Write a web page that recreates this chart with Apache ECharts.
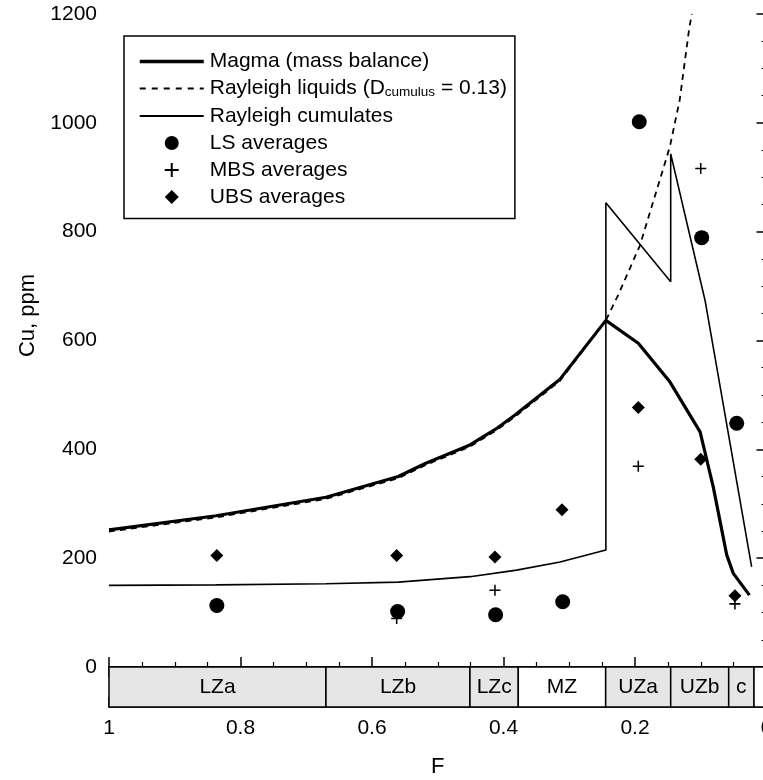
<!DOCTYPE html>
<html>
<head>
<meta charset="utf-8">
<script src="https://cdn.jsdelivr.net/npm/echarts@6/dist/echarts.min.js"></script>
<style>
html, body { margin: 0; padding: 0; background: #fff; }
#chart { width: 763px; height: 780px; }
</style>
</head>
<body>
<div id="chart"></div>
<script>
// Magma (mass balance), thick line
var magmaF  = [1, 0.837, 0.67, 0.56, 0.519, 0.451, 0.412, 0.3825, 0.314, 0.2443, 0.195, 0.147, 0.101, 0.081, 0.0605, 0.0505, 0.026];
var magmaCu = [252, 278, 312, 350, 374, 408, 437, 463, 529, 637, 595, 524, 432, 331, 206, 172, 132];

// Rayleigh liquids, dashed
var liqF  = [1, 0.837, 0.67, 0.56, 0.519, 0.451, 0.412, 0.3825, 0.314, 0.2443, 0.2254, 0.1924, 0.147, 0.132, 0.1175, 0.1136];
var liqCu = [249, 275, 309, 347, 371, 405, 434, 460, 526, 637, 684, 775, 956, 1042, 1174, 1200];

// Rayleigh cumulates, thin line
var cumF  = [1, 0.837, 0.67, 0.56, 0.451, 0.38, 0.314, 0.2443, 0.2443, 0.1457, 0.1457, 0.0935, 0.0226];
var cumCu = [150, 151, 153, 156, 166, 178, 193, 215, 853, 708, 943, 674, 184];

// averages
var lsF   = [0.836, 0.561, 0.412, 0.31, 0.1935, 0.0986, 0.0453];
var lsCu  = [113, 102, 96, 120, 1002, 789, 448];
var mbsF  = [0.5625, 0.413, 0.195, 0.1, 0.048];
var mbsCu = [89, 141, 369, 916, 116];
var ubsF  = [0.836, 0.5625, 0.413, 0.311, 0.195, 0.100, 0.048];
var ubsCu = [205, 205, 202, 289, 477, 382, 131];

// zones along F
var zoneNames = ['LZa', 'LZb', 'LZc', 'MZ', 'UZa', 'UZb', 'c', ''];
var zoneEdges = [1, 0.67, 0.451, 0.3775, 0.2446, 0.1457, 0.0575, 0.019, 0];
var whiteZones = ['MZ', ''];

function pairs(xs, ys) {
    return xs.map(function (x, i) { return [x, ys[i]]; });
}

var font = 'Liberation Sans, Arial, Helvetica, sans-serif';
var plusPath = 'path://M4.3,0 H5.7 V4.3 H10 V5.7 H5.7 V10 H4.3 V5.7 H0 V4.3 H4.3 Z';
var diamondPath = 'path://M5,0 L10,5 L5,10 L0,5 Z';
var noDot = { color: 'rgba(0,0,0,0)', borderColor: 'rgba(0,0,0,0)', borderWidth: 0 };

var chart = echarts.init(document.getElementById('chart'));

var axisLine = { show: true, lineStyle: { color: '#000', width: 1.5 } };
var tickIn = { show: true, inside: true, length: 10, lineStyle: { color: '#000', width: 1.5 } };
var minorIn = { show: true, splitNumber: 4, length: 5, lineStyle: { color: '#000', width: 1.2 } };

option = {
    animation: false,
    backgroundColor: '#fff',
    textStyle: { fontFamily: font },
    grid: [
        { left: 109, top: 14, width: 657.5, height: 653, outerBoundsMode: 'none', containLabel: false },
        { left: 109, top: 667, width: 657.5, height: 40, outerBoundsMode: 'none', containLabel: false }
    ],
    legend: {
        orient: 'vertical',
        left: 124,
        top: 36,
        padding: [15, 8, 11, 14],
        itemGap: 6,
        itemWidth: 64,
        itemHeight: 14,
        borderColor: '#000',
        borderWidth: 1.5,
        backgroundColor: '#fff',
        textStyle: {
            fontFamily: font,
            fontSize: 21,
            color: '#000',
            padding: [0, 0, 0, 1],
            rich: {
                n: { fontFamily: font, fontSize: 21, color: '#000' },
                s: { fontFamily: font, fontSize: 13.5, color: '#000', verticalAlign: 'bottom', padding: [8, 0, 0, 0] }
            }
        },
        formatter: function (name) {
            if (name === 'Rayleigh liquids') {
                return '{n|Rayleigh liquids (D}{s|cumulus}{n| = 0.13)}';
            }
            return name;
        },
        data: [
            { name: 'Magma (mass balance)', itemStyle: noDot, lineStyle: { width: 3.5 } },
            { name: 'Rayleigh liquids', itemStyle: noDot, lineStyle: { width: 1.8, type: [6, 6] } },
            { name: 'Rayleigh cumulates', itemStyle: noDot, lineStyle: { width: 1.8 } },
            'LS averages', 'MBS averages', 'UBS averages'
        ]
    },
    xAxis: [
        {
            gridIndex: 0, type: 'value', min: 0, max: 1, interval: 0.2, inverse: true, position: 'bottom',
            axisLine: axisLine, axisTick: tickIn, minorTick: minorIn,
            axisLabel: { show: false }, splitLine: { show: false }
        },
        {
            gridIndex: 0, type: 'value', min: 0, max: 1, interval: 0.2, inverse: true, position: 'top',
            axisLine: axisLine, axisTick: tickIn, minorTick: minorIn,
            axisLabel: { show: false }, splitLine: { show: false }
        },
        {
            gridIndex: 1, type: 'value', min: 0, max: 1, interval: 0.2, inverse: true, position: 'bottom',
            axisLine: axisLine, axisTick: tickIn, minorTick: minorIn,
            axisLabel: { show: true, margin: 11, fontSize: 21, color: '#000', fontFamily: font },
            splitLine: { show: false },
            name: 'F', nameLocation: 'middle', nameGap: 49,
            nameTextStyle: { fontSize: 22, color: '#000', fontFamily: font }
        }
    ],
    yAxis: [
        {
            gridIndex: 0, type: 'value', min: 0, max: 1200, interval: 200, position: 'left',
            axisLine: axisLine, axisTick: tickIn, minorTick: minorIn,
            axisLabel: {
                margin: 12, fontSize: 21, color: '#000', fontFamily: font,
                formatter: function (v) { return String(v); }
            },
            splitLine: { show: false },
            name: 'Cu, ppm', nameLocation: 'middle', nameGap: 63,
            nameTextStyle: { fontSize: 22, color: '#000', fontFamily: font, padding: [0, 0, 0, 50] }
        },
        {
            gridIndex: 0, type: 'value', min: 0, max: 1200, interval: 200, position: 'right',
            axisLine: axisLine, axisTick: tickIn, minorTick: minorIn,
            axisLabel: { show: false }, splitLine: { show: false }
        },
        { gridIndex: 1, type: 'value', min: 0, max: 1, show: false }
    ],
    series: [
        {
            name: 'zones',
            type: 'custom',
            xAxisIndex: 2,
            yAxisIndex: 2,
            silent: true,
            clip: false,
            encode: { x: [0, 1] },
            data: zoneNames.map(function (n, i) { return [zoneEdges[i], zoneEdges[i + 1]]; }),
            renderItem: function (params, api) {
                var p0 = api.coord([api.value(0), 1]);
                var p1 = api.coord([api.value(1), 0]);
                var name = zoneNames[params.dataIndex];
                return {
                    type: 'rect',
                    shape: {
                        x: Math.min(p0[0], p1[0]),
                        y: Math.min(p0[1], p1[1]),
                        width: Math.abs(p1[0] - p0[0]),
                        height: Math.abs(p1[1] - p0[1])
                    },
                    style: {
                        fill: whiteZones.indexOf(name) >= 0 ? '#fff' : '#e6e6e6',
                        stroke: '#000',
                        lineWidth: 1.5
                    },
                    textContent: {
                        style: { text: name, fontSize: 21, fontFamily: font, fill: '#000' }
                    },
                    textConfig: { position: 'inside' }
                };
            }
        },
        {
            name: 'Rayleigh cumulates',
            type: 'line',
            symbol: 'none',
            showSymbol: false,
            data: pairs(cumF, cumCu),
            lineStyle: { color: '#000', width: 1.6 },
            itemStyle: { color: '#000' },
            z: 3
        },
        {
            name: 'Rayleigh liquids',
            type: 'line',
            symbol: 'none',
            showSymbol: false,
            data: pairs(liqF, liqCu),
            lineStyle: { color: '#000', width: 1.8, type: [6, 5] },
            itemStyle: { color: '#000' },
            z: 3
        },
        {
            name: 'Magma (mass balance)',
            type: 'line',
            symbol: 'none',
            showSymbol: false,
            data: pairs(magmaF, magmaCu),
            lineStyle: { color: '#000', width: 3.2 },
            itemStyle: { color: '#000' },
            z: 4
        },
        {
            name: 'LS averages',
            type: 'scatter',
            symbol: 'circle',
            symbolSize: 15,
            symbolKeepAspect: true,
            data: pairs(lsF, lsCu),
            itemStyle: { color: '#000', opacity: 1 },
            z: 5
        },
        {
            name: 'MBS averages',
            type: 'scatter',
            symbol: plusPath,
            symbolSize: 11,
            symbolKeepAspect: true,
            data: pairs(mbsF, mbsCu),
            itemStyle: { color: '#000', opacity: 1 },
            z: 5
        },
        {
            name: 'UBS averages',
            type: 'scatter',
            symbol: diamondPath,
            symbolSize: 13,
            symbolKeepAspect: true,
            data: pairs(ubsF, ubsCu),
            itemStyle: { color: '#000', opacity: 1 },
            z: 5
        }
    ]
};

chart.setOption(option);
</script>
</body>
</html>
